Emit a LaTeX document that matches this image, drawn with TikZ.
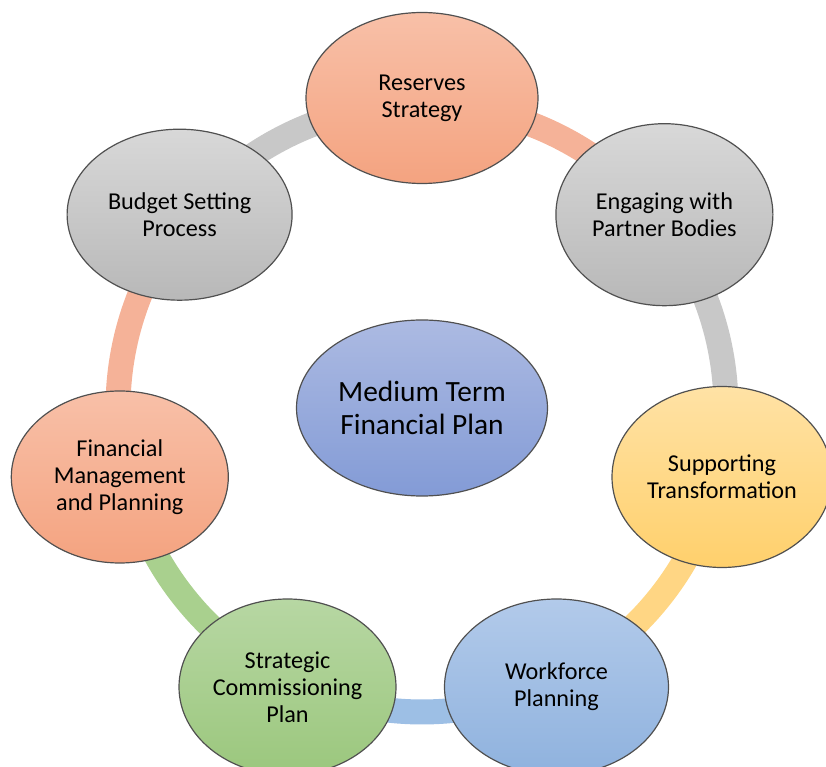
\documentclass[tikz,border=0pt]{standalone}
\usepackage{fontspec}
\setmainfont{Carlito}
\usetikzlibrary{shapes.geometric}
\definecolor{edgegray}{RGB}{80,80,80}
\definecolor{salmonTop}{RGB}{248,192,168}
\definecolor{salmonBot}{RGB}{244,163,128}
\definecolor{grayTop}{RGB}{216,216,216}
\definecolor{grayBot}{RGB}{184,184,184}
\definecolor{yellowTop}{RGB}{255,226,165}
\definecolor{yellowBot}{RGB}{255,208,108}
\definecolor{blueTop}{RGB}{178,202,234}
\definecolor{blueBot}{RGB}{143,178,222}
\definecolor{greenTop}{RGB}{183,215,163}
\definecolor{greenBot}{RGB}{155,199,125}
\definecolor{navyTop}{RGB}{172,186,226}
\definecolor{navyBot}{RGB}{131,155,214}
\definecolor{salmonRing}{RGB}{245,178,152}
\definecolor{grayRing}{RGB}{200,200,200}
\definecolor{yellowRing}{RGB}{255,214,132}
\definecolor{blueRing}{RGB}{157,191,229}
\definecolor{greenRing}{RGB}{169,208,142}
\begin{document}
\begin{tikzpicture}[x=0.5pt,y=0.5pt,
  bub/.style={ellipse, draw=edgegray, line width=0.6pt, inner sep=0pt,
    align=center, text=black, font=\fontsize{12.1}{13.5}\selectfont},
  ringseg/.style={line width=12.5pt}]
\useasboundingbox (0,0) rectangle (826,767);
\clip (0,0) rectangle (826,767);
\coordinate (c) at (422,359);
% ring segments
\draw[ringseg, salmonRing] (c) ++(90:304) arc[start angle=90, end angle=38.57, radius=304];
\draw[ringseg, grayRing] (c) ++(38.57:304) arc[start angle=38.57, end angle=-12.86, radius=304];
\draw[ringseg, yellowRing] (c) ++(-12.86:304) arc[start angle=-12.86, end angle=-64.29, radius=304];
\draw[ringseg, blueRing] (c) ++(-64.29:304) arc[start angle=-64.29, end angle=-115.71, radius=304];
\draw[ringseg, greenRing] (c) ++(-115.71:304) arc[start angle=-115.71, end angle=-167.14, radius=304];
\draw[ringseg, salmonRing] (c) ++(-167.14:304) arc[start angle=-167.14, end angle=-218.57, radius=304];
\draw[ringseg, grayRing] (c) ++(141.43:304) arc[start angle=141.43, end angle=90, radius=304];
% nodes
\node[bub, top color=navyTop, bottom color=navyBot, minimum width=125.5pt, minimum height=88pt,
  font=\fontsize{14.7}{16.5}\selectfont] (mtfp) at (c) {Medium Term\\Financial Plan};
\node[bub, top color=salmonTop, bottom color=salmonBot, minimum width=116pt, minimum height=85.5pt]
  (res) at (422,669) {Reserves\\Strategy};
\node[bub, top color=grayTop, bottom color=grayBot, minimum width=108.5pt, minimum height=91pt]
  (eng) at (664.4,552.3) {Engaging with\\Partner Bodies};
\node[bub, top color=yellowTop, bottom color=yellowBot, minimum width=110pt, minimum height=90.5pt]
  (sup) at (722,290) {Supporting\\Transformation};
\node[bub, top color=blueTop, bottom color=blueBot, minimum width=112pt, minimum height=88pt]
  (wf) at (556.5,80) {Workforce\\Planning};
\node[bub, top color=greenTop, bottom color=greenBot, minimum width=108.5pt, minimum height=88pt]
  (scp) at (287.5,80) {Strategic\\Commissioning\\Plan};
\node[bub, top color=salmonTop, bottom color=salmonBot, minimum width=108.5pt, minimum height=86pt]
  (fmp) at (119.8,290) {Financial\\Management\\and Planning};
\node[bub, top color=grayTop, bottom color=grayBot, minimum width=112.5pt, minimum height=85.5pt]
  (bsp) at (179.6,552.3) {Budget Setting\\Process};
\end{tikzpicture}
\end{document}
